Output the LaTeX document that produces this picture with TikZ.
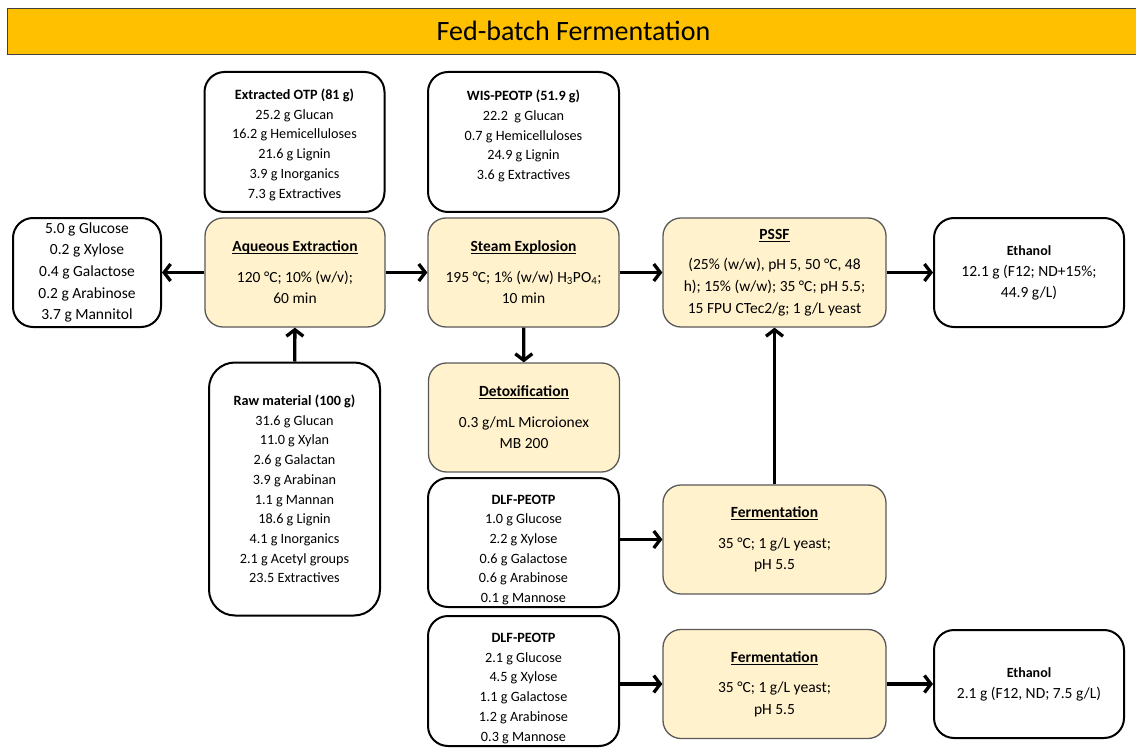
\documentclass[tikz,border=0pt]{standalone}
\usepackage{fontspec}
\setmainfont{Carlito}
\usetikzlibrary{arrows.meta}

\definecolor{barorange}{HTML}{FFC000}
\definecolor{procfill}{HTML}{FFF2CC}
\newcommand{\ulbf}[1]{\setbox0\hbox{\textbf{#1}}\rlap{\rule[-2.4pt]{\wd0}{0.9pt}}\box0}

\begin{document}
\begin{tikzpicture}[x=1pt, y=-1pt,
arr/.style={-{Straight Barb[length=6.5pt,width=17pt]}, line width=3.3pt},
box/.style={draw, line width=2pt, rounded corners=20pt, fill=white, align=center, inner sep=0pt, font=\fontsize{14.2}{19.7}\selectfont},
proc/.style={draw=black!65, line width=1.3pt, rounded corners=18pt, fill=procfill, align=center, inner sep=0pt, minimum height=109pt, font=\fontsize{15.5}{21.5}\selectfont}]

\useasboundingbox (0,0) rectangle (1136,749);

\node[draw=black!75, line width=0.8pt, fill=barorange, minimum width=1133pt, minimum height=46pt, inner sep=0pt, font=\fontsize{28}{30}\selectfont] (title) at (573.5,31) {Fed-batch Fermentation};

% first row
\node[box, minimum width=180pt, minimum height=140pt] (OTP) at (294.5,142) {\textbf{Extracted OTP (81 g)}\rule{0pt}{16pt}\\25.2 g Glucan\\16.2 g Hemicelluloses\\21.6 g Lignin\\3.9 g Inorganics\\7.3 g Extractives};
\node[box, minimum width=191pt, minimum height=140pt] (WIS) at (523.5,142) {\textbf{WIS-PEOTP (51.9 g)}\rule{0pt}{16pt}\\22.2~~g Glucan\\0.7 g Hemicelluloses\\24.9 g Lignin\\3.6 g Extractives\\\mbox{}};

% process line
\node[box, minimum width=148pt, minimum height=109pt, font=\fontsize{15.5}{21.7}\selectfont] (Sug) at (87,272.5) {5.0 g Glucose\\0.2 g Xylose\\0.4 g Galactose\\0.2 g Arabinose\\3.7 g Mannitol};
\node[proc, minimum width=180pt] (AE) at (295,272.5) {\ulbf{Aqueous Extraction}\\[9pt]120 °C; 10\% (w/v);\\60 min};
\node[proc, minimum width=191pt] (SE) at (523.5,272.5) {\ulbf{Steam Explosion}\\[9pt]195 °C; 1\% (w/w) H\textsubscript{3}PO\textsubscript{4};\\10 min};
\node[proc, minimum width=223pt, font=\fontsize{15.5}{22}\selectfont] (PSSF) at (774.5,272.5) {\ulbf{PSSF}\\[8pt](25\% (w/w), pH 5, 50 °C, 48\\h); 15\% (w/w); 35 °C; pH 5.5;\\15 FPU CTec2/g; 1 g/L yeast};
\node[box, minimum width=190pt, minimum height=109pt, font=\fontsize{15.5}{21}\selectfont] (Eth1) at (1029,272.5) {{\fontsize{14}{16}\selectfont\bfseries Ethanol}\\12.1 g (F12; ND+15\%;\\44.9 g/L)};

% lower part
\node[box, minimum width=171pt, minimum height=253pt, rounded corners=26pt] (Raw) at (294.5,489) {\textbf{Raw material (100 g)}\\31.6 g Glucan\\11.0 g Xylan\\2.6 g Galactan\\3.9 g Arabinan\\1.1 g Mannan\\18.6 g Lignin\\4.1 g Inorganics\\2.1 g Acetyl groups\\23.5 Extractives};
\node[proc, minimum width=191pt] (Detox) at (524,417.5) {\ulbf{Detoxification}\\[9pt]0.3 g/mL Microionex\\MB 200};
\node[box, minimum width=191pt, minimum height=129pt] (DLF1) at (523.5,542.5) {\textbf{DLF-PEOTP}\rule{0pt}{24pt}\\1.0 g Glucose\\2.2 g Xylose\\0.6 g Galactose\\0.6 g Arabinose\\0.1 g Mannose};
\node[proc, minimum width=223pt] (Ferm1) at (774.5,539.5) {\ulbf{Fermentation}\\[9pt]35 °C; 1 g/L yeast;\\pH 5.5};
\node[box, minimum width=191pt, minimum height=130pt] (DLF2) at (523.5,681) {\textbf{DLF-PEOTP}\rule{0pt}{24pt}\\2.1 g Glucose\\4.5 g Xylose\\1.1 g Galactose\\1.2 g Arabinose\\0.3 g Mannose};
\node[proc, minimum width=223pt] (Ferm2) at (774.5,684) {\ulbf{Fermentation}\\[9pt]35 °C; 1 g/L yeast;\\pH 5.5};
\node[box, minimum width=190pt, minimum height=108pt, font=\fontsize{15.5}{21}\selectfont] (Eth2) at (1029,684) {{\fontsize{14}{16}\selectfont\bfseries Ethanol}\\2.1 g (F12, ND; 7.5 g/L)};

\path
 (AE) edge[arr] (Sug)
 (AE) edge[arr] (SE)
 (Raw) edge[arr] (AE)
 (SE) edge[arr] (PSSF)
 (SE) edge[arr] (Detox)
 (PSSF) edge[arr] (Eth1)
 (Ferm1) edge[arr] (PSSF)
 (DLF1.east |- Ferm1) edge[arr] (Ferm1)
 (DLF2.east |- Ferm2) edge[arr] (Ferm2)
 (Ferm2) edge[arr] (Eth2);

\end{tikzpicture}
\end{document}
